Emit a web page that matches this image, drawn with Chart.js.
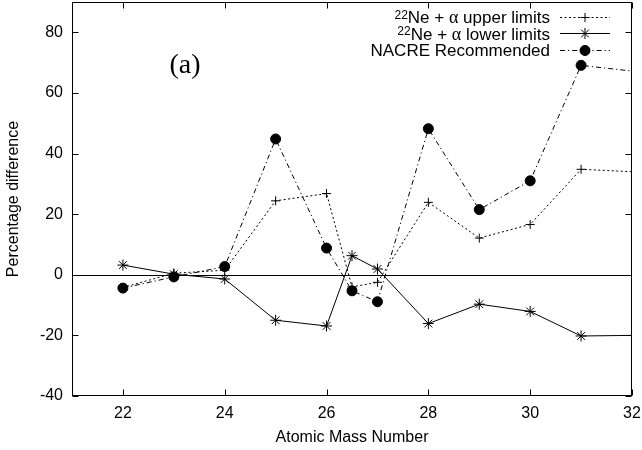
<!DOCTYPE html>
<html>
<head>
<meta charset="utf-8">
<script src="https://cdn.jsdelivr.net/npm/chart.js@4/dist/chart.umd.min.js"></script>
<style>
  html, body { margin: 0; padding: 0; background: #fff; }
  #wrap { width: 642px; height: 450px; }
</style>
</head>
<body>
<div id="wrap"><canvas id="c" width="642" height="450"></canvas></div>
<script>
// Atomic mass numbers of the nuclei
const massNumbers = [22, 23, 24, 25, 26, 26.5, 27, 28, 29, 30, 31, 32];
// Percentage differences per series
const upperLimits = [-4.2, 0.5, 1.5, 24.4, 26.8, -4.0, -2.5, 23.9, 12.1, 16.6, 34.8, 34.0];
const lowerLimits = [3.2, 0.2, -1.4, -15.0, -16.9, 6.3, 1.9, -16.1, -9.7, -12.1, -20.2, -20.0];
const nacreRecommended = [-4.4, -0.7, 2.7, 44.8, 8.8, -5.3, -8.9, 48.2, 21.5, 31.0, 69.1, 67.2];
// key entries: [text, kind] pieces; 'sup' = superscript, 'sym' = Greek symbol
const seriesNames = ['22Ne + α upper limits', '22Ne + α lower limits', 'NACRE Recommended'];
const seriesKeyParts = [
  [['22', 'sup'], ['Ne + ', 'txt'], ['α', 'sym'], [' upper limits', 'txt']],
  [['22', 'sup'], ['Ne + ', 'txt'], ['α', 'sym'], [' lower limits', 'txt']],
  [['NACRE Recommended', 'txt']]
];
const xTicks = [22, 24, 26, 28, 30, 32];
const yTicks = [-40, -20, 0, 20, 40, 60, 80];
const panelLabel = '(a)';

const SANS = '"Liberation Sans", Arial, Helvetica, sans-serif';
const SERIF = '"Liberation Serif", "Times New Roman", serif';
const X_MIN = 21, X_MAX = 32, Y_MIN = -40, Y_MAX = 90;

const toPoints = vals => massNumbers.map((m, i) => ({ x: m, y: vals[i] }));
// markers at the right frame edge are clipped away
const radiusFor = r => ctx => (ctx.raw && ctx.raw.x >= X_MAX) ? 0 : r;

const seriesStyles = [
  { dash: [2, 2.5], style: 'cross', radius: 4.5 },
  { dash: [], style: 'star', radius: 5.5 },
  { dash: [5, 3, 1.2, 3], style: 'circle', radius: 5 }
];

const partFont = kind => kind === 'sup' ? '12px ' + SANS : kind === 'sym' ? '18px ' + SERIF : '17px ' + SANS;

// frame, inward ticks, zero line, panel label and key
const decorations = {
  id: 'decorations',
  beforeDatasetsDraw(chart) {
    const { ctx, chartArea: a, scales: { y } } = chart;
    ctx.save();
    ctx.strokeStyle = '#000';
    ctx.lineWidth = 1;
    ctx.setLineDash([]);
    const y0 = Math.round(y.getPixelForValue(0)) + 0.5;
    ctx.beginPath();
    ctx.moveTo(a.left, y0);
    ctx.lineTo(a.right, y0);
    ctx.stroke();
    ctx.restore();
  },
  afterDraw(chart) {
    const { ctx, chartArea: a, scales: { x, y } } = chart;
    ctx.save();
    ctx.strokeStyle = '#000';
    ctx.lineWidth = 1;
    ctx.setLineDash([]);
    const L = Math.round(a.left) + 0.5, R = Math.round(a.right) - 0.5;
    const T = Math.round(a.top) + 0.5, B = Math.round(a.bottom) - 0.5;
    ctx.strokeRect(L, T, R - L, B - T);
    const tl = 6;
    ctx.beginPath();
    yTicks.forEach(v => {
      const p = Math.round(y.getPixelForValue(v)) + 0.5;
      ctx.moveTo(L, p); ctx.lineTo(L + tl, p);
      ctx.moveTo(R, p); ctx.lineTo(R - tl, p);
    });
    xTicks.forEach(v => {
      const p = Math.round(x.getPixelForValue(v)) + 0.5;
      ctx.moveTo(p, B); ctx.lineTo(p, B - tl);
      ctx.moveTo(p, T); ctx.lineTo(p, T + tl);
    });
    ctx.stroke();

    // panel label
    ctx.fillStyle = '#000';
    ctx.font = '28px ' + SERIF;
    ctx.textAlign = 'center';
    ctx.textBaseline = 'middle';
    ctx.fillText(panelLabel, 185, 66);

    // key: text right-aligned, then line sample with marker
    const rowY = [16.5, 33, 49.5];
    const textRight = 550, lineL = 560, lineR = 610, mark = 585;
    ctx.textAlign = 'left';
    ctx.textBaseline = 'alphabetic';
    chart.data.datasets.forEach((ds, i) => {
      const yy = rowY[i];
      const base = yy + 6.5;
      const parts = seriesKeyParts[i];
      const widths = parts.map(([t, k]) => { ctx.font = partFont(k); return ctx.measureText(t).width; });
      let cx = textRight - widths.reduce((s, w) => s + w, 0);
      ctx.fillStyle = '#000';
      parts.forEach(([t, k], j) => {
        ctx.font = partFont(k);
        ctx.fillText(t, cx, k === 'sup' ? base - 4.5 : base);
        cx += widths[j];
      });
      const ly = Math.round(yy) + 0.5;
      ctx.setLineDash(seriesStyles[i].dash);
      ctx.beginPath();
      ctx.moveTo(lineL, ly);
      ctx.lineTo(lineR, ly);
      ctx.stroke();
      ctx.setLineDash([]);
      Chart.helpers.drawPoint(ctx, {
        pointStyle: seriesStyles[i].style,
        radius: seriesStyles[i].radius,
        borderWidth: 1,
        rotation: 0
      }, mark, ly);
      if (seriesStyles[i].style === 'circle') ctx.fill();
    });
    ctx.restore();
  }
};

const makeDataset = (i, vals, order) => ({
  label: seriesNames[i],
  data: toPoints(vals),
  borderColor: '#000',
  backgroundColor: '#000',
  borderWidth: 1,
  borderDash: seriesStyles[i].dash,
  pointStyle: seriesStyles[i].style,
  pointRadius: radiusFor(seriesStyles[i].radius),
  pointBorderWidth: 1,
  pointBackgroundColor: '#000',
  pointBorderColor: '#000',
  tension: 0,
  order
});

new Chart(document.getElementById('c'), {
  type: 'line',
  data: {
    datasets: [
      makeDataset(0, upperLimits, 2),
      makeDataset(1, lowerLimits, 1),
      makeDataset(2, nacreRecommended, 0)
    ]
  },
  options: {
    responsive: false,
    animation: false,
    devicePixelRatio: 1,
    layout: { autoPadding: false, padding: { top: 2, right: 10, left: 0, bottom: 0 } },
    plugins: { legend: { display: false }, tooltip: { enabled: false } },
    scales: {
      x: {
        type: 'linear',
        min: X_MIN,
        max: X_MAX,
        afterBuildTicks: s => { s.ticks = xTicks.map(v => ({ value: v })); },
        afterFit: s => { s.height = 54; s.paddingLeft = 0; s.paddingRight = 0; },
        grid: { display: false, drawTicks: false },
        border: { display: false },
        ticks: { color: '#000', font: { family: SANS, size: 16 }, padding: 8, maxRotation: 0 },
        title: { display: true, text: 'Atomic Mass Number', color: '#000', font: { family: SANS, size: 16 }, padding: { top: 0, bottom: 3 } }
      },
      y: {
        type: 'linear',
        min: Y_MIN,
        max: Y_MAX,
        afterBuildTicks: s => { s.ticks = yTicks.map(v => ({ value: v })); },
        afterFit: s => { s.width = 72; s.paddingTop = 0; s.paddingBottom = 0; },
        grid: { display: false, drawTicks: false },
        border: { display: false },
        ticks: { color: '#000', font: { family: SANS, size: 16 }, padding: 9 },
        title: { display: true, text: 'Percentage difference', color: '#000', font: { family: SANS, size: 16 }, padding: { top: 4, bottom: 0 } }
      }
    }
  },
  plugins: [decorations]
});
</script>
</body>
</html>
